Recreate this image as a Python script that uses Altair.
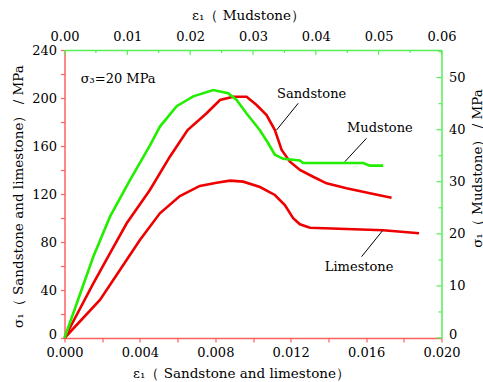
import altair as alt
import pandas as pd

FONT = "DejaVu Serif"
RED_LINE = "#ee0000"
GREEN_LINE = "#22ee00"
RED_AXIS = "#ff6060"
GREEN_AXIS = "#55ee55"

# ---- data ----
sand_strain = [0.0, 0.00153, 0.00241, 0.00330, 0.00453, 0.00559, 0.00653, 0.00754, 0.00825,
               0.00895, 0.00966, 0.01019, 0.01072, 0.01116, 0.01152, 0.01196, 0.01249,
               0.01319, 0.01390, 0.01496, 0.01620, 0.01735]
sand_stress = [0.0, 45.6, 70.6, 95.6, 123.3, 151.1, 173.3, 187.3, 198.3,
               201.1, 201.1, 194.2, 185.8, 173.3, 156.7, 146.9, 140.0,
               134.4, 128.9, 124.8, 120.6, 116.9]

lime_strain = [0.0, 0.00188, 0.00294, 0.00400, 0.00506, 0.00612, 0.00718, 0.00807, 0.00878,
               0.00948, 0.01037, 0.01116, 0.01169, 0.01213, 0.01249, 0.01302, 0.01690, 0.01881]
lime_stress = [0.0, 31.7, 56.7, 81.7, 103.9, 118.3, 126.7, 129.4, 131.1,
               130.3, 125.8, 119.2, 110.8, 99.8, 94.8, 91.9, 89.8, 87.3]

mud_strain = [0.0, 0.00458, 0.00724, 0.01042, 0.01360, 0.01519, 0.01785, 0.02049, 0.02367,
              0.02605, 0.02739, 0.02898, 0.03110, 0.03242, 0.03348, 0.03480, 0.03746,
              0.03798, 0.04753, 0.04859, 0.05071]
mud_stress = [0.0, 15.6, 23.3, 30.3, 37.0, 40.6, 44.5, 46.4, 47.6,
              47.0, 45.7, 43.1, 39.9, 37.4, 35.2, 34.4, 34.1,
              33.6, 33.6, 33.1, 33.1]

bottom_ticks = [0.000, 0.002, 0.004, 0.006, 0.008, 0.010, 0.012, 0.014, 0.016, 0.018, 0.020]
left_ticks = [0, 20, 40, 60, 80, 100, 120, 140, 160, 180, 200, 220, 240]
top_major = [0.00, 0.01, 0.02, 0.03, 0.04, 0.05, 0.06]
top_minor = [0.005, 0.015, 0.025, 0.035, 0.045, 0.055]
right_major = [0, 10, 20, 30, 40, 50]
right_minor = [5, 15, 25, 35, 45, 55]

ann_text = ["Sandstone", "Mudstone", "Limestone"]
ann_x = [0.01311, 0.01673, 0.01563]
ann_y = [203.3, 174.8, 59.4]
lead_x = [0.01240, 0.01602, 0.01687]
lead_y = [195.6, 166.4, 89.4]
lead_x2 = [0.01125, 0.01487, 0.01576]
lead_y2 = [173.3, 146.9, 67.75]

# ---- tables ----
rows = []
for name, xs, ys in [("Sandstone", sand_strain, sand_stress), ("Limestone", lime_strain, lime_stress)]:
    for i, (a, b) in enumerate(zip(xs, ys)):
        rows.append({"series": name, "i": i, "strain": a, "stress": b})
red_df = pd.DataFrame(rows)
mud_df = pd.DataFrame({"i": range(len(mud_strain)), "strain": mud_strain, "stress": mud_stress})
ann_df = pd.DataFrame({"text": ann_text, "x": ann_x, "y": ann_y})
lead_df = pd.DataFrame({"x": lead_x, "y": lead_y, "x2": lead_x2, "y2": lead_y2})
s3_df = pd.DataFrame({"x": [0.00086], "y": [212.5], "text": ["σ₃=20 MPa"]})

xb_scale = alt.Scale(domain=[0, 0.02], nice=False, zero=False)
yl_scale = alt.Scale(domain=[0, 240], nice=False)
xt_scale = alt.Scale(domain=[0, 0.06], nice=False, zero=False)
yr_scale = alt.Scale(domain=[0, 55.3], nice=False)

common = dict(labelFont=FONT, labelFontSize=13, labelColor="black", titleFont=FONT,
              titleFontSize=13.5, titleFontWeight="normal", titleColor="black",
              grid=False, labelFlush=False, labelOverlap=False,
              titleAlign="center", titleBaseline="middle", domainWidth=1.5)

zero_up = {"condition": {"test": "datum.value == 0", "value": -4}, "value": 0}

x_bottom_axis = alt.Axis(orient="bottom", values=bottom_ticks, format=".3f",
                         labelExpr="abs(round(datum.value*250) - datum.value*250) < 0.001 ? datum.label : ''",
                         tickSize=4, tickColor=RED_AXIS, tickWidth=1.2, domainColor=RED_AXIS,
                         labelPadding=4, title="ε₁（ Sandstone and limestone）",
                         titleX=176.5, titleY=35, **common)
y_left_axis = alt.Axis(orient="left", values=left_ticks,
                       labelExpr="datum.value % 40 == 0 ? datum.label : ''",
                       tickSize=4, tickColor=RED_AXIS, tickWidth=1.2, domainColor=RED_AXIS,
                       labelPadding=4, labelOffset=zero_up,
                       title="σ₁（ Sandstone and limestone） / MPa",
                       titleAngle=270, titleX=-46, titleY=146, **common)
x_top_axis = alt.Axis(orient="top", values=top_major, format=".2f", ticks=False, tickSize=0,
                      domainColor=GREEN_AXIS, labelPadding=7, title="ε₁（ Mudstone）",
                      titleX=183.5, titleY=-35, **common)
y_right_axis = alt.Axis(orient="right", values=right_major, format="d", ticks=False, tickSize=0,
                        domainColor=GREEN_AXIS, labelPadding=7, labelOffset=zero_up,
                        title="σ₁（ Mudstone） / MPa",
                        titleAngle=270, titleX=35.5, titleY=118, **common)

XB = lambda f: alt.X(f, type="quantitative", scale=xb_scale, axis=x_bottom_axis)
YL = lambda f: alt.Y(f, type="quantitative", scale=yl_scale, axis=y_left_axis)
XT = lambda f: alt.X(f, type="quantitative", scale=xt_scale, axis=x_top_axis)
YR = lambda f: alt.Y(f, type="quantitative", scale=yr_scale, axis=y_right_axis)

red_lines = alt.Chart(red_df).mark_line(color=RED_LINE, strokeWidth=2.6).encode(
    x=XB("strain"), y=YL("stress"), detail="series:N", order="i:Q")
ann = alt.Chart(ann_df).mark_text(font=FONT, fontSize=13, color="black").encode(
    x=XB("x"), y=YL("y"), text="text:N")
leads = alt.Chart(lead_df).mark_rule(color="black", strokeWidth=1).encode(
    x=XB("x"), y=YL("y"), x2="x2:Q", y2="y2:Q")
s3 = alt.Chart(s3_df).mark_text(font=FONT, fontSize=13, color="black", align="left",
                                baseline="alphabetic").encode(
    x=XB("x"), y=YL("y"), text="text:N")
layer1 = alt.layer(red_lines, ann, leads, s3)

mud_line = alt.Chart(mud_df).mark_line(color=GREEN_LINE, strokeWidth=2.6).encode(
    x=XT("strain"), y=YR("stress"), order="i:Q")
tmaj = alt.Chart(pd.DataFrame({"v": top_major})).mark_rule(color=GREEN_AXIS, strokeWidth=1.2).encode(
    x=XT("v"), y=alt.value(0), y2=alt.value(5))
tmin = alt.Chart(pd.DataFrame({"v": top_minor})).mark_rule(color=GREEN_AXIS, strokeWidth=1.2).encode(
    x=XT("v"), y=alt.value(0), y2=alt.value(3))
rmaj = alt.Chart(pd.DataFrame({"v": right_major})).mark_rule(color=GREEN_AXIS, strokeWidth=1.2).encode(
    y=YR("v"), x=alt.value(377), x2=alt.value(372))
rmin = alt.Chart(pd.DataFrame({"v": right_minor})).mark_rule(color=GREEN_AXIS, strokeWidth=1.2).encode(
    y=YR("v"), x=alt.value(377), x2=alt.value(374))
layer2 = alt.layer(mud_line, tmaj, tmin, rmaj, rmin)

chart = alt.layer(layer1, layer2).resolve_scale(x="independent", y="independent").properties(
    width=377, height=288,
    autosize=alt.AutoSizeParams(type="none"),
    padding={"left": 64.5, "top": 50, "right": 41.5, "bottom": 44},
    background="white",
).configure_view(stroke=None)

chart.save("out.html", embed_options={"renderer": "svg", "actions": False})
